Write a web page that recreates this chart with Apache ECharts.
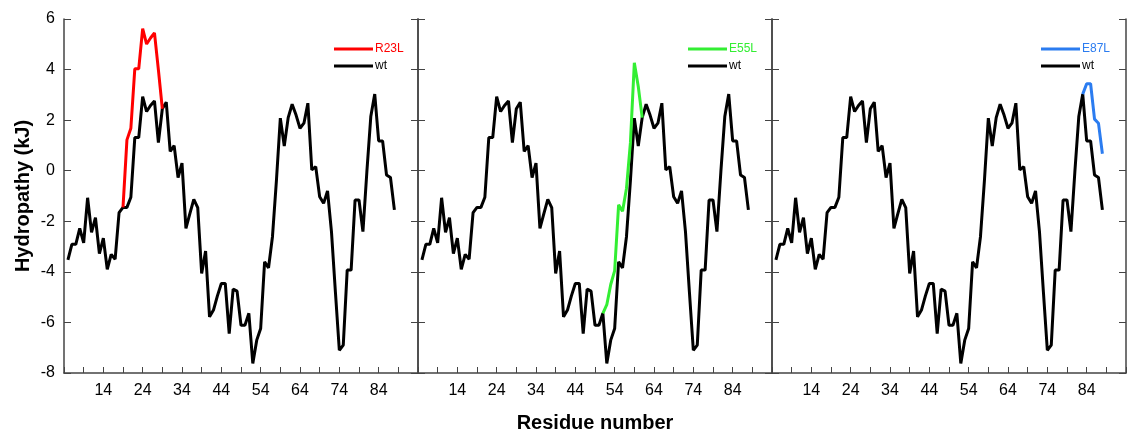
<!DOCTYPE html>
<html>
<head>
<meta charset="utf-8">
<script src="https://cdn.jsdelivr.net/npm/echarts@6/dist/echarts.min.js"></script>
<style>
  html, body { margin: 0; padding: 0; background: #fff; }
  #chart { width: 1127px; height: 435px; }
</style>
</head>
<body>
<div id="chart"></div>
<script>
// residue numbers of the wild type profile
var residues = [];
for (var r = 5; r <= 88; r++) residues.push(r);

// hydropathy of the wild type
var wt = [
  -3.53, -2.91, -2.91, -2.28, -2.85, -1.07, -2.44, -1.86, -3.28, -2.67,
  -3.90, -3.31, -3.50, -1.66, -1.45, -1.45, -1.05,  1.31,  1.31,  2.93,
   2.34,  2.58,  2.76,  1.11,  2.45,  2.71,  0.76,  0.99, -0.27,  0.30,
  -2.28, -1.70, -1.13, -1.46, -4.06, -3.18, -5.78, -5.51, -4.95, -4.46,
  -4.46, -6.44, -4.68, -4.76, -6.11, -6.11, -5.64, -7.62, -6.70, -6.24,
  -3.60, -3.84, -2.61, -0.40,  2.08,  0.98,  2.10,  2.63,  2.20,  1.68,
   1.88,  2.67,  0.03,  0.16, -1.03, -1.29, -0.80, -2.41, -4.79, -7.10,
  -6.90, -3.93, -3.93, -1.16, -1.16, -2.41, -0.04,  2.14,  3.03,  1.18,
   1.18, -0.17, -0.27, -1.55
];

// mutants, only the stretch that differs from wt
var r23lRes = [19, 20, 21, 22, 23, 24, 25, 26, 27, 28, 29];
var r23l = [-1.45, 1.22, 1.68, 4.03, 4.03, 5.62, 5.01, 5.25, 5.45, 3.99, 2.45];

var e55lRes = [51, 52, 53, 54, 55, 56, 57, 58, 59, 60, 61];
var e55l = [-5.64, -5.30, -4.50, -3.95, -1.35, -1.60, -0.70, 1.10, 4.27, 3.33, 2.10];

var e87lRes = [83, 84, 85, 86, 87, 88];
var e87l = [3.03, 3.44, 3.44, 2.04, 1.88, 0.67];

var panels = [
  { name: 'R23L', color: '#ff0000', res: r23lRes, vals: r23l },
  { name: 'E55L', color: '#33ee33', res: e55lRes, vals: e55l },
  { name: 'E87L', color: '#2b7cf0', res: e87lRes, vals: e87l }
];
var gridLefts = [64, 418, 772];
var legendLefts = [329, 683, 1036];

function pairs(xs, ys) {
  var out = [];
  for (var i = 0; i < xs.length; i++) out.push([xs[i], ys[i]]);
  return out;
}

var axisColor = '#444';
var font = 'Liberation Sans, Arial, sans-serif';

var grids = [], xAxes = [], yAxes = [], series = [], legends = [];

panels.forEach(function (p, i) {
  grids.push({ left: gridLefts[i], top: 19, width: 354, height: 354, outerBoundsMode: 'none' });

  xAxes.push({
    type: 'value', gridIndex: i, min: 4, max: 94, interval: 5,
    axisLine: { onZero: false, lineStyle: { color: axisColor, width: 1.5 } },
    axisTick: { inside: true, length: 6, lineStyle: { color: axisColor, width: 1 } },
    axisLabel: {
      fontSize: 16, color: '#000', margin: 10, fontFamily: font,
      formatter: function (v) {
        return (v > 4 && v < 94 && (v - 4) % 10 === 0) ? String(v) : '';
      }
    },
    splitLine: { show: false },
    name: i === 1 ? 'Residue number' : '',
    nameLocation: 'middle', nameGap: 40,
    nameTextStyle: { fontSize: 20, fontWeight: 'bold', color: '#000', fontFamily: font }
  });

  // left side
  yAxes.push({
    type: 'value', gridIndex: i, min: -8, max: 6, interval: 2,
    axisLine: { show: true, onZero: false, lineStyle: { color: axisColor, width: 1.5 } },
    axisTick: { show: true, inside: true, length: 7, lineStyle: { color: axisColor, width: 1 } },
    axisLabel: { show: i === 0, fontSize: 16, color: '#000', margin: 9, fontFamily: font },
    splitLine: { show: false },
    name: i === 0 ? 'Hydropathy (kJ)' : '',
    nameLocation: 'middle', nameGap: 31,
    nameTextStyle: { fontSize: 20, fontWeight: 'bold', color: '#000', fontFamily: font }
  });
  // right side
  yAxes.push({
    type: 'value', gridIndex: i, position: 'right', min: -8, max: 6, interval: 2,
    axisLine: { show: true, onZero: false, lineStyle: { color: axisColor, width: 1.5 } },
    axisTick: { show: true, inside: true, length: 7, lineStyle: { color: axisColor, width: 1 } },
    axisLabel: { show: false },
    splitLine: { show: false }
  });

  series.push({
    name: p.name, type: 'line', xAxisIndex: i, yAxisIndex: i * 2,
    data: pairs(p.res, p.vals), showSymbol: false, symbol: 'none', z: 3,
    lineStyle: { color: p.color, width: 3 }, itemStyle: { color: p.color }
  });
  series.push({
    name: 'wt', type: 'line', xAxisIndex: i, yAxisIndex: i * 2,
    data: pairs(residues, wt), showSymbol: false, symbol: 'none', z: 2,
    lineStyle: { color: '#000', width: 3 }, itemStyle: { color: '#000' }
  });

  legends.push({
    left: legendLefts[i], top: 38, orient: 'vertical',
    icon: 'rect', itemWidth: 39, itemHeight: 3, itemGap: 5,
    textStyle: { fontSize: 12, fontFamily: font, padding: [0, 0, 0, -3] },
    data: [
      { name: p.name, textStyle: { color: p.color } },
      { name: 'wt', textStyle: { color: '#000' } }
    ]
  });
});

var myChart = echarts.init(document.getElementById('chart'));
myChart.setOption({
  animation: false,
  backgroundColor: '#fff',
  grid: grids,
  xAxis: xAxes,
  yAxis: yAxes,
  legend: legends,
  series: series
});
</script>
</body>
</html>
